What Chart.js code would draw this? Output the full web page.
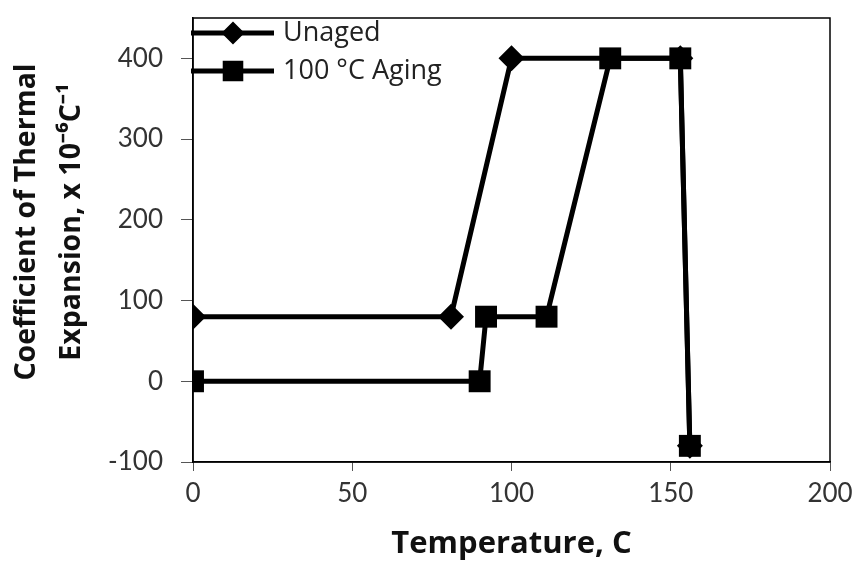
<!DOCTYPE html>
<html>
<head>
<meta charset="utf-8">
<script src="https://cdn.jsdelivr.net/npm/chart.js"></script>
<style>
  html, body { margin: 0; padding: 0; background: #fff; }
  #wrap { width: 867px; height: 563px; }
</style>
</head>
<body>
<div id="wrap"><canvas id="cteChart" width="867" height="563"></canvas></div>
<script>
// values
const unagedTemp = [0, 81, 100, 153, 156];
const unagedCte = [80, 80, 400, 400, -80];
const agedTemp = [0, 90, 92, 111, 131, 153, 156];
const agedCte = [0, 0, 80, 80, 400, 400, -80];
const seriesNames = ['Unaged', '100 °C Aging'];
const yTickValues = [-100, 0, 100, 200, 300, 400];
const yTitleLines = ['Coefficient of Thermal', 'Expansion, x 10\u207B\u2076C\u207B\u00B9'];

function toPoints(xs, ys) {
    return xs.map((x, i) => ({ x: x, y: ys[i] }));
}

// frame round the plot area, the y title and the in-plot legend
const framePlugin = {
    id: 'frame',
    afterDraw(chart) {
        const ctx = chart.ctx;
        const a = chart.chartArea;
        ctx.save();
        ctx.strokeStyle = '#000';
        ctx.lineWidth = 1.5;
        ctx.strokeRect(a.left, a.top, a.right - a.left, a.bottom - a.top);

        // y title, two lines, a bit above the middle like the original
        ctx.save();
        ctx.translate(0, 222);
        ctx.rotate(-Math.PI / 2);
        ctx.fillStyle = '#111';
        ctx.font = 'bold 28.5px "Open Sans"';
        ctx.textAlign = 'center';
        ctx.textBaseline = 'middle';
        ctx.fillText(yTitleLines[0], 0, 27);
        ctx.fillText(yTitleLines[1], 0, 72);
        ctx.restore();

        // legend
        const rows = [
            { y: 33, style: 'rectRot', r: 8 },
            { y: 71, style: 'rect', r: 11 },
        ];
        rows.forEach((row, i) => {
            ctx.strokeStyle = '#000';
            ctx.fillStyle = '#000';
            ctx.lineWidth = 5;
            ctx.beginPath();
            ctx.moveTo(191, row.y);
            ctx.lineTo(274, row.y);
            ctx.stroke();
            Chart.helpers.drawPoint(ctx, { pointStyle: row.style, radius: row.r, borderWidth: 1 }, 233, row.y);
            ctx.fill();
            ctx.fillStyle = '#222';
            ctx.font = '27px "Open Sans"';
            ctx.textBaseline = 'middle';
            ctx.textAlign = 'left';
            ctx.fillText(seriesNames[i], 283, row.y);
        });
        ctx.restore();
    }
};

new Chart(document.getElementById('cteChart'), {
    type: 'line',
    data: {
        datasets: [
            {
                label: seriesNames[0],
                data: toPoints(unagedTemp, unagedCte),
                borderColor: '#000',
                backgroundColor: '#000',
                borderWidth: 5,
                pointStyle: 'rectRot',
                pointRadius: 13,
                pointBorderWidth: 0,
                tension: 0,
            },
            {
                label: seriesNames[1],
                data: toPoints(agedTemp, agedCte),
                borderColor: '#000',
                backgroundColor: '#000',
                borderWidth: 5,
                pointStyle: 'rect',
                pointRadius: 15.5,
                pointBorderWidth: 0,
                tension: 0,
            },
        ],
    },
    options: {
        responsive: false,
        animation: false,
        layout: { padding: { top: 18, right: 37, left: 0, bottom: 0 } },
        plugins: {
            legend: { display: false },
            tooltip: { enabled: false },
        },
        scales: {
            x: {
                type: 'linear',
                min: 0,
                max: 200,
                ticks: { stepSize: 50, color: '#333', font: { family: 'Lato', size: 26 }, padding: 7 },
                grid: { drawOnChartArea: false, tickLength: 9, color: '#555' },
                border: { color: '#000', width: 1.5 },
                title: {
                    display: true,
                    text: 'Temperature, C',
                    color: '#111',
                    font: { family: 'Open Sans', size: 31, weight: 'bold', lineHeight: 1.2 },
                    padding: { top: 0, bottom: 0 },
                },
                afterFit(scale) { scale.height = 101; },
            },
            y: {
                type: 'linear',
                min: -100,
                max: 450,
                afterBuildTicks(scale) {
                    scale.ticks = yTickValues.map(v => ({ value: v }));
                },
                ticks: { color: '#333', font: { family: 'Lato', size: 26 }, padding: 18 },
                grid: { drawOnChartArea: false, tickLength: 12, color: '#555' },
                border: { color: '#000', width: 1.5 },
                title: { display: false },
                afterFit(scale) {
                    scale.width = 193;
                    scale.paddingTop = 0;
                },
            },
        },
    },
    plugins: [framePlugin],
});
</script>
</body>
</html>
